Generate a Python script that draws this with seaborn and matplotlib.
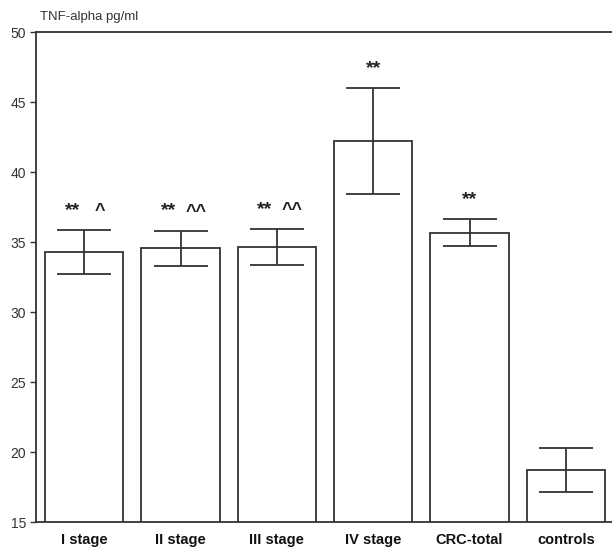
import pandas as pd
import seaborn as sns
import matplotlib.pyplot as plt

# TNF-alpha means and error (+/-)
groups = ["I stage", "II stage", "III stage", "IV stage", "CRC-total", "controls"]
means = [34.28, 34.54, 34.64, 42.2, 35.67, 18.72]
errors = [1.58, 1.27, 1.30, 3.78, 0.98, 1.6]
stars = ["**", "**", "**", "**", "**", ""]
carets = ["^", "^^", "^^", "", "", ""]

df = pd.DataFrame({"group": groups, "tnf": means})

sns.set_style("white")
plt.rcParams["font.family"] = ["Liberation Sans", "DejaVu Sans"]

fig = plt.figure(figsize=(6.12, 5.49), dpi=100)
ax = fig.add_axes([36 / 612, 1 - 522 / 549, 578 / 612, 490 / 549])

line_col = "#333333"
sns.barplot(data=df, x="group", y="tnf", color="white", edgecolor=line_col,
            linewidth=1.3, width=0.81, errorbar=None, ax=ax)
xs = list(range(len(groups)))
ax.errorbar(xs, means, yerr=errors, fmt="none", ecolor=line_col,
            elinewidth=1.3, capsize=27 * 0.72, capthick=1.3)

# significance marks above the error caps
for x, m, e, s, c in zip(xs, means, errors, stars, carets):
    if not s:
        continue
    if c:
        ax.annotate(s, (x, m + e), xytext=(-8.5, 8), textcoords="offset points",
                    ha="center", va="bottom", fontsize=14, fontweight="bold",
                    color="#222222")
        ax.annotate(c, (x, m + e), xytext=(11, 7), textcoords="offset points",
                    ha="center", va="bottom", fontsize=13, fontweight="bold",
                    color="#222222")
    else:
        ax.annotate(s, (x, m + e), xytext=(0, 8), textcoords="offset points",
                    ha="center", va="bottom", fontsize=14, fontweight="bold",
                    color="#222222")

ax.set_ylim(15, 50)
ax.set_xlim(-0.5, 5.5)
ax.set_yticks([15, 20, 25, 30, 35, 40, 45, 50])
ax.set_xlabel("")
ax.set_ylabel("")
ax.tick_params(axis="y", length=4, width=1, color=line_col, labelsize=10,
               labelcolor="#333333", pad=3, left=True)
ax.tick_params(axis="x", length=0, labelsize=10.5, pad=8)
for lab in ax.get_xticklabels():
    lab.set_fontweight("bold")
    lab.set_color("#111111")
ax.spines["right"].set_visible(False)
for s in ["left", "top", "bottom"]:
    ax.spines[s].set_color(line_col)
    ax.spines[s].set_linewidth(1.3)

fig.text(40 / 612, 1 - 17 / 549, "TNF-alpha pg/ml", fontsize=9.5,
         color="#333333", va="center", ha="left")

fig.savefig("out.png", dpi=100)
